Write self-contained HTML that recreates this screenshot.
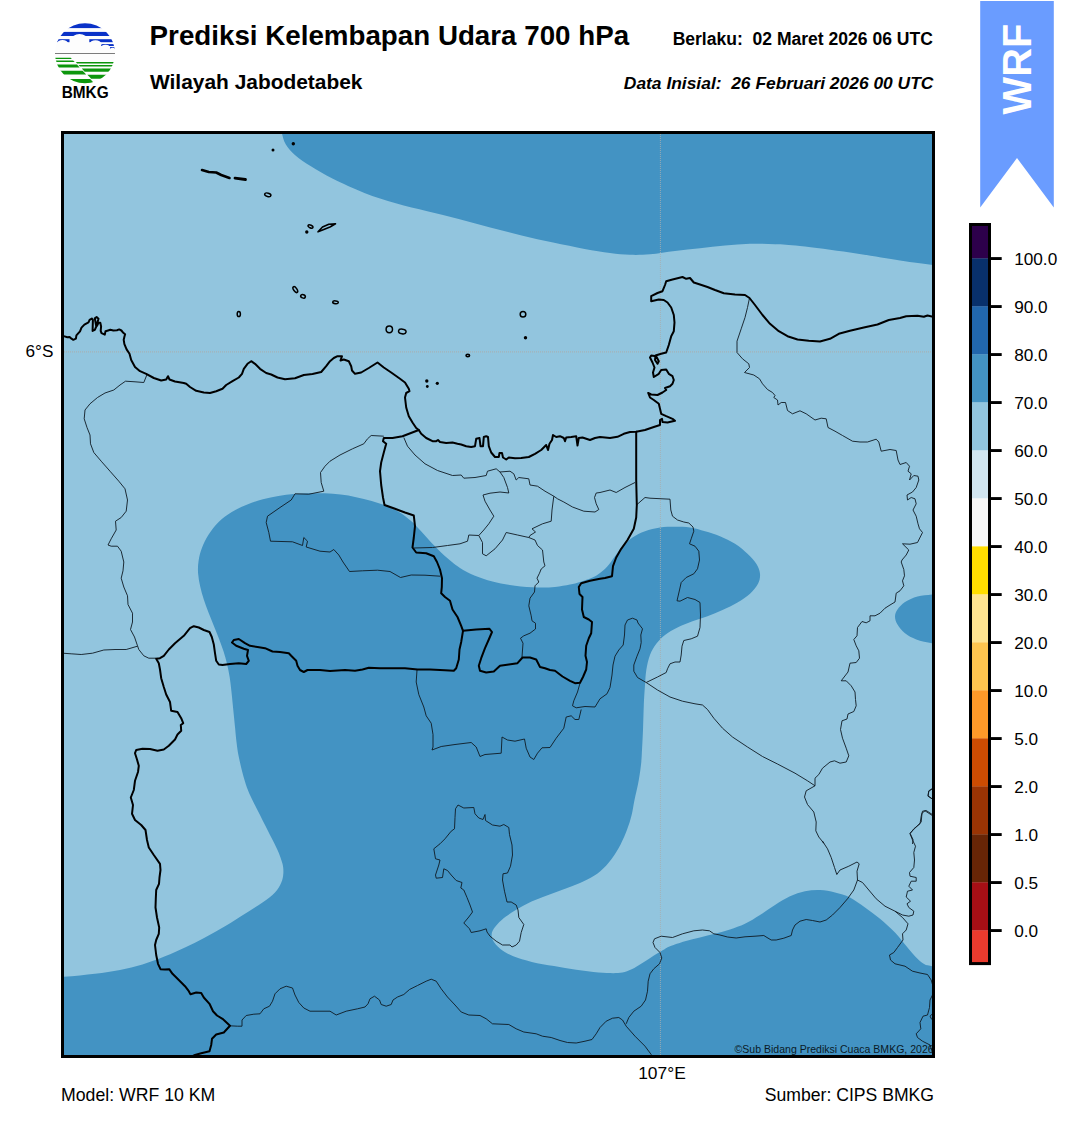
<!DOCTYPE html><html><head><meta charset="utf-8"><title>Prediksi Kelembapan Udara 700 hPa</title>
<style>html,body{margin:0;padding:0;background:#fff}body{width:1081px;height:1128px;overflow:hidden;font-family:"Liberation Sans",sans-serif}svg{display:block}text{font-family:"Liberation Sans",sans-serif;fill:#000}</style></head><body>
<svg width="1081" height="1128" viewBox="0 0 1081 1128">
<rect width="1081" height="1128" fill="#fff"/>
<defs><clipPath id="mc"><rect x="62.5" y="132.5" width="871" height="924"/></clipPath></defs>
<g clip-path="url(#mc)">
<rect x="62" y="132" width="872" height="925" fill="#92c5de"/>
<path d="M282.0,133.8 C282.8,136.7 283.5,140.6 285.7,144.2 C287.9,147.8 291.0,151.5 295.2,155.2 C299.4,158.9 304.6,162.3 310.9,166.2 C317.2,170.1 324.0,174.4 332.9,178.8 C341.8,183.2 353.9,188.8 364.4,192.9 C374.9,197.0 385.3,200.2 395.8,203.3 C406.3,206.4 416.8,208.6 427.3,211.2 C437.8,213.8 448.2,216.3 458.7,219.0 C469.2,221.7 479.7,224.8 490.2,227.5 C500.7,230.2 511.1,232.9 521.6,235.4 C532.1,237.9 542.6,240.3 553.1,242.6 C563.6,244.8 575.1,247.2 584.6,248.9 C594.1,250.6 602.4,252.0 610.0,253.0 C617.6,254.0 623.3,254.6 630.0,254.8 C636.7,255.0 642.5,254.9 650.0,254.3 C657.5,253.7 666.7,252.0 675.0,251.0 C683.3,250.0 691.7,249.2 700.0,248.3 C708.3,247.4 716.7,246.2 725.0,245.5 C733.3,244.8 741.7,244.0 750.0,243.8 C758.3,243.6 766.7,243.9 775.0,244.3 C783.3,244.7 787.5,244.6 800.0,246.0 C812.5,247.4 833.3,250.1 850.0,252.5 C866.7,254.9 886.2,258.4 900.0,260.5 C913.8,262.6 923.0,263.8 933.0,265.0 C943.0,266.2 955.5,295.5 960.0,268.0 C964.5,240.5 1073.2,128.0 960.0,100.0 C846.8,72.0 394.2,97.0 281.0,100.0 C167.8,103.0 280.5,113.5 280.5,118.0 C280.5,122.5 280.6,124.4 280.8,127.0 C281.1,129.6 281.2,130.9 282.0,133.8Z" fill="#4393c3"/>
<path d="M325.0,493.3 C319.8,493.1 314.7,493.2 309.5,493.3 C304.3,493.4 299.2,493.7 294.0,494.1 C288.8,494.5 283.6,495.0 278.4,495.9 C273.2,496.8 268.1,497.9 262.9,499.3 C257.7,500.7 252.5,502.3 247.3,504.4 C242.1,506.5 236.5,509.1 231.8,512.0 C227.1,514.9 222.8,518.0 218.9,521.8 C215.0,525.6 211.3,530.5 208.5,534.8 C205.7,539.1 203.7,543.4 202.0,547.7 C200.3,552.0 199.2,556.4 198.6,560.7 C197.9,565.0 197.8,569.3 198.1,573.6 C198.4,577.9 199.2,582.2 200.2,586.5 C201.1,590.8 202.4,595.2 203.8,599.5 C205.2,603.8 206.8,608.1 208.5,612.4 C210.2,616.7 212.0,621.1 213.7,625.4 C215.4,629.7 217.3,634.1 218.9,638.4 C220.5,642.7 222.1,647.0 223.5,651.3 C224.9,655.6 226.1,660.0 227.1,664.3 C228.1,668.6 229.0,672.9 229.7,677.2 C230.4,681.5 230.8,685.9 231.3,690.2 C231.8,694.5 232.2,698.8 232.6,703.1 C233.0,707.4 233.5,711.8 233.9,716.1 C234.3,720.4 234.8,724.7 235.2,729.0 C235.6,733.3 235.9,737.3 236.5,742.0 C237.1,746.7 237.5,750.7 238.8,757.0 C240.1,763.3 242.6,773.7 244.5,780.0 C246.4,786.3 247.4,789.2 250.0,795.0 C252.6,800.8 256.7,808.3 260.0,815.0 C263.3,821.7 267.1,829.2 270.0,835.0 C272.9,840.8 275.4,845.2 277.5,850.0 C279.6,854.8 281.5,859.8 282.5,863.8 C283.5,867.8 283.5,870.7 283.3,873.8 C283.1,876.9 282.7,879.4 281.3,882.5 C279.9,885.6 278.1,889.2 275.0,892.5 C271.9,895.8 267.5,899.0 262.5,902.5 C257.5,906.0 251.2,909.8 245.0,913.8 C238.8,917.8 231.7,922.3 225.0,926.3 C218.3,930.2 211.7,934.0 205.0,937.5 C198.3,941.0 191.7,944.4 185.0,947.5 C178.3,950.6 172.1,953.5 165.0,956.3 C157.9,959.1 150.0,962.2 142.5,964.5 C135.0,966.8 127.9,968.5 120.0,970.0 C112.1,971.5 104.4,972.7 95.0,973.8 C85.6,974.9 74.6,976.1 63.8,976.8 C53.0,977.5 35.6,959.1 30.0,978.0 C24.4,996.9 -125.0,1071.3 30.0,1090.0 C185.0,1108.7 805.0,1109.2 960.0,1090.0 C1115.0,1070.8 964.7,995.6 960.0,975.0 C955.3,954.4 937.8,968.0 932.0,966.3 C926.2,964.5 927.4,965.8 925.0,964.5 C922.6,963.2 920.4,961.6 917.5,958.8 C914.6,956.0 911.2,951.9 907.5,947.5 C903.8,943.1 899.6,937.3 895.0,932.5 C890.4,927.7 885.0,923.0 880.0,918.8 C875.0,914.6 870.0,911.0 865.0,907.5 C860.0,904.0 855.0,900.0 850.0,897.5 C845.0,895.0 840.0,893.8 835.0,892.5 C830.0,891.2 825.0,890.2 820.0,890.0 C815.0,889.8 810.0,890.2 805.0,891.3 C800.0,892.3 795.0,894.0 790.0,896.3 C785.0,898.6 780.0,901.9 775.0,905.0 C770.0,908.1 765.0,911.9 760.0,915.0 C755.0,918.1 750.0,921.4 745.0,923.8 C740.0,926.2 735.0,927.8 730.0,929.5 C725.0,931.2 720.0,932.5 715.0,933.8 C710.0,935.1 705.0,936.2 700.0,937.5 C695.0,938.8 690.0,939.8 685.0,941.3 C680.0,942.8 673.3,945.0 670.0,946.3 C666.7,947.6 667.7,947.4 665.0,948.9 C662.3,950.4 657.6,953.1 653.9,955.4 C650.2,957.7 646.5,960.5 642.8,962.8 C639.1,965.1 635.1,967.7 631.7,969.3 C628.3,970.9 625.6,972.0 622.5,972.6 C619.4,973.2 617.2,973.2 613.2,973.2 C609.2,973.2 604.6,973.2 598.4,972.6 C592.2,972.0 583.6,970.9 576.2,969.8 C568.8,968.7 561.4,967.4 554.0,966.1 C546.6,964.8 538.6,963.5 531.8,961.9 C525.0,960.3 518.5,958.5 513.3,956.3 C508.1,954.1 503.8,951.5 500.4,948.9 C497.0,946.3 494.4,943.4 493.0,940.6 C491.6,937.8 491.2,935.1 492.0,932.3 C492.8,929.5 495.3,926.6 497.6,924.0 C499.9,921.4 502.7,919.1 505.9,916.6 C509.1,914.1 513.3,911.4 517.0,909.2 C520.7,907.0 523.8,905.2 528.1,903.2 C532.4,901.2 538.0,899.0 542.9,897.1 C547.8,895.2 552.8,893.5 557.7,891.6 C562.6,889.8 567.6,888.0 572.5,886.0 C577.4,884.0 582.7,882.1 587.3,879.6 C591.9,877.1 596.3,874.6 600.3,871.2 C604.3,867.8 608.0,863.7 611.4,859.2 C614.8,854.7 618.0,849.3 620.6,844.4 C623.2,839.5 625.2,834.5 627.1,829.6 C629.0,824.7 630.5,819.7 631.7,814.8 C632.9,809.9 633.3,805.8 634.5,800.0 C635.7,794.2 637.7,786.3 638.8,780.0 C639.9,773.7 640.8,767.0 641.3,762.0 C641.8,757.0 641.7,755.3 642.0,750.0 C642.3,744.7 642.7,737.5 643.0,730.0 C643.3,722.5 643.5,712.5 643.8,705.0 C644.1,697.5 644.6,690.8 645.0,685.0 C645.4,679.2 645.5,675.0 646.3,670.0 C647.1,665.0 648.3,659.4 650.0,655.0 C651.7,650.6 653.8,647.1 656.3,643.8 C658.8,640.5 661.5,637.7 665.0,635.0 C668.5,632.3 672.9,629.8 677.5,627.5 C682.1,625.2 687.5,623.2 692.5,621.3 C697.5,619.4 702.5,618.2 707.5,616.3 C712.5,614.4 717.5,612.3 722.5,610.0 C727.5,607.7 732.9,605.2 737.5,602.5 C742.1,599.8 746.6,596.9 750.0,593.8 C753.4,590.7 756.3,587.1 758.0,583.8 C759.7,580.5 760.3,577.1 760.0,573.8 C759.7,570.5 758.4,567.1 756.3,563.8 C754.2,560.5 751.0,557.1 747.5,553.8 C744.0,550.5 739.6,546.7 735.0,543.8 C730.4,540.9 725.0,538.4 720.0,536.3 C715.0,534.2 710.0,532.8 705.0,531.3 C700.0,529.8 695.0,528.2 690.0,527.5 C685.0,526.8 680.0,526.8 675.0,526.8 C670.0,526.8 665.0,526.8 660.0,527.5 C655.0,528.2 649.6,529.6 645.0,531.3 C640.4,533.0 636.2,535.0 632.5,537.5 C628.8,540.0 625.4,543.2 622.5,546.3 C619.6,549.4 617.5,553.0 615.0,556.3 C612.5,559.6 610.0,563.5 607.5,566.3 C605.0,569.1 602.5,571.1 600.0,573.0 C597.5,574.9 595.8,576.0 592.5,577.5 C589.2,579.0 583.8,580.8 580.0,582.0 C576.2,583.2 574.2,583.7 570.0,584.5 C565.8,585.3 560.4,586.5 555.0,587.0 C549.6,587.5 544.2,587.7 537.5,587.5 C530.8,587.3 522.5,586.8 515.0,585.8 C507.5,584.8 499.2,583.2 492.5,581.5 C485.8,579.8 480.4,578.1 475.0,575.8 C469.6,573.5 463.8,570.2 460.0,567.9 C456.2,565.6 455.1,564.5 452.0,562.0 C448.9,559.5 445.1,556.1 441.6,552.9 C438.1,549.6 434.6,546.2 431.2,542.5 C427.8,538.8 424.3,534.6 420.9,530.9 C417.4,527.2 413.9,523.5 410.5,520.5 C407.1,517.5 404.1,515.1 400.2,512.7 C396.3,510.3 391.9,508.2 387.2,506.3 C382.4,504.4 376.9,502.6 371.7,501.1 C366.5,499.6 361.3,498.3 356.1,497.2 C350.9,496.1 345.8,495.2 340.6,494.6 C335.4,494.0 330.2,493.5 325.0,493.3Z" fill="#4393c3"/>
<path d="M945.0,593.0 C940.3,588.8 936.6,593.9 932.0,594.5 C927.4,595.1 922.0,595.2 917.5,596.5 C913.0,597.8 908.3,599.8 905.0,602.0 C901.7,604.2 899.2,607.1 897.5,609.5 C895.8,611.9 895.0,614.0 895.0,616.5 C895.0,619.0 895.8,621.7 897.5,624.5 C899.2,627.3 901.9,630.8 905.0,633.3 C908.1,635.8 911.8,637.8 916.3,639.5 C920.8,641.2 927.2,642.4 932.0,643.3 C936.8,644.2 940.3,648.9 945.0,645.0 C949.7,641.1 960.0,628.7 960.0,620.0 C960.0,611.3 949.7,597.2 945.0,593.0Z" fill="#4393c3"/>
<path d="M62,351.9H934" stroke="#a9aeae" stroke-width="1.1" stroke-dasharray="1,1" fill="none" opacity="0.85"/>
<path d="M660.4,132V1057" stroke="#a9aeae" stroke-width="1" stroke-dasharray="1,1" fill="none" opacity="0.85"/>
<path d="M147.0,374.5 L143.8,382.5 L135.0,381.8 L125.5,381.2 L120.0,385.0 L113.8,390.0 L105.0,393.0 L97.5,397.5 L90.0,403.8 L85.0,410.0 L84.2,418.8 L87.0,427.5 L90.0,435.0 L90.5,443.8 L93.8,452.5 L101.2,461.2 L110.0,471.2 L118.8,481.2 L125.0,488.8 L127.5,500.0 L126.2,511.2 L121.2,517.5 L115.5,521.2 L116.2,530.0 L111.2,538.8 L108.0,545.0 L111.2,546.2 L117.5,546.2 L121.2,551.2 L123.8,562.0 L123.0,570.8 L121.2,578.2 L123.8,587.0 L127.5,595.8 L128.0,604.5 L132.5,613.2 L132.5,622.0 L130.5,629.5 L134.5,637.0 L137.5,645.8 L138.8,649.5 L143.8,655.8 L148.8,658.2 L156.2,658.2" fill="none" stroke="#0e1a22" stroke-width="0.9" stroke-linejoin="round"/>
<path d="M137.5,646.2 L126.2,649.5 L115.0,649.5 L103.8,650.0 L92.5,653.2 L81.2,654.5 L71.2,653.8 L62.5,653.2" fill="none" stroke="#0e1a22" stroke-width="0.9" stroke-linejoin="round"/>
<path d="M383.8,436.2 L371.2,435.5 L367.5,438.8 L363.8,443.8 L352.5,448.8 L340.0,455.0 L330.0,461.2 L325.0,466.2 L320.5,472.5 L321.2,482.5 L323.8,491.2 L308.8,494.2 L295.0,493.8 L291.2,500.0 L280.0,507.5 L267.5,516.2 L266.2,522.5 L268.8,532.5 L270.5,541.2 L292.5,541.8 L302.5,545.5 L303.8,537.5 L307.5,541.2 L306.2,547.0 L320.0,551.2 L330.0,552.0 L333.8,549.5 L338.8,555.0 L343.0,562.0 L349.5,571.5 L362.5,570.8 L377.5,570.2 L390.0,571.5 L400.5,577.5 L411.2,575.0 L425.0,575.2 L440.0,576.2" fill="none" stroke="#0e1a22" stroke-width="0.9" stroke-linejoin="round"/>
<path d="M403.8,437.5 L407.5,446.2 L415.0,455.0 L425.0,463.8 L437.5,470.5 L452.5,475.5 L461.2,475.0 L463.8,478.2 L475.0,477.5 L486.2,475.5 L487.5,471.2 L496.2,468.8 L500.0,472.0 L510.0,471.2 L513.8,473.8 L516.2,480.0 L518.8,477.5 L528.8,478.8 L530.0,485.0 L537.5,486.2 L545.0,491.2 L553.8,496.2 L557.5,498.8 L563.8,502.0 L572.5,507.0 L583.8,511.2 L595.0,512.0 L598.8,509.5 L596.2,503.8 L594.5,497.5 L596.2,493.0 L600.0,492.5 L610.0,490.0 L616.2,492.5 L625.0,487.5 L635.0,482.5" fill="none" stroke="#0e1a22" stroke-width="0.9" stroke-linejoin="round"/>
<path d="M500.0,472.0 L503.8,477.5 L507.5,487.5 L508.8,493.0 L500.0,492.0 L490.0,493.2 L483.0,495.0 L485.0,501.2 L490.0,510.0 L493.8,516.2 L488.8,523.8 L483.8,530.0 L478.8,535.5 L468.8,535.0 L467.5,541.2 L460.0,543.8 L447.5,545.5 L432.5,547.5 L413.8,548.0" fill="none" stroke="#0e1a22" stroke-width="0.9" stroke-linejoin="round"/>
<path d="M478.8,535.5 L482.5,542.5 L482.5,553.8 L486.2,555.8 L495.0,548.8 L502.5,540.0 L506.2,532.5 L517.5,535.0 L528.8,537.5 L535.0,540.0 L537.5,545.5 L542.5,550.0 L543.8,562.0 L545.0,565.8 L541.2,569.0 L539.5,573.2 L537.0,578.2 L538.8,582.0 L535.0,585.8 L534.5,592.0 L530.0,598.2 L528.8,605.8 L531.2,615.8 L532.0,620.8 L535.5,623.2 L535.5,629.0 L530.0,633.2 L523.8,635.8 L520.5,638.2 L523.0,643.2 L522.0,657.0" fill="none" stroke="#0e1a22" stroke-width="0.9" stroke-linejoin="round"/>
<path d="M553.8,496.2 L552.0,510.0 L551.2,521.2 L542.5,523.8 L532.0,528.8 L535.5,532.0 L530.0,535.5 L528.8,537.5" fill="none" stroke="#0e1a22" stroke-width="0.9" stroke-linejoin="round"/>
<path d="M749.5,298.0 L747.5,307.5 L745.0,317.5 L741.2,328.8 L737.0,341.2 L737.0,352.5 L742.5,358.8 L748.8,363.8 L749.5,367.5 L744.5,372.5 L753.8,375.0 L759.5,378.8 L762.5,383.8 L767.5,389.5 L772.5,392.5 L775.0,395.5 L773.8,397.5 L777.5,400.0 L778.0,405.0 L781.2,402.5 L785.5,402.5 L787.5,410.5 L792.5,413.8 L800.0,410.8 L806.2,413.8 L815.0,420.0 L821.2,418.2 L826.2,418.8 L828.0,427.5 L835.0,431.2 L842.5,435.5 L852.5,441.2 L860.0,442.0 L867.5,442.0 L876.2,439.2 L878.8,442.0 L881.2,451.2 L890.0,449.5 L896.2,450.5 L898.0,460.0 L900.0,464.5 L906.2,462.5 L909.5,466.2 L908.0,471.2 L911.2,473.8 L909.5,480.0 L913.8,475.5 L918.0,476.2 L918.8,480.0 L916.2,487.5 L912.5,492.0 L907.0,495.0 L907.5,500.0 L911.2,497.5 L915.0,498.8 L916.2,503.8 L913.0,510.0 L916.2,516.2 L918.0,523.8 L919.5,528.8 L922.5,532.5 L917.5,542.5 L910.0,544.2 L902.5,543.8 L908.8,550.0 L906.2,555.0 L902.0,560.0 L901.2,562.0 L903.8,569.5 L904.5,575.8 L902.5,580.8 L903.8,585.8 L900.0,590.8 L896.2,593.2 L895.0,602.0 L890.0,605.0 L885.0,608.2 L880.0,613.2 L875.0,615.8 L870.0,615.8 L870.0,620.8 L866.2,622.8 L862.0,621.5 L857.5,627.5 L857.0,635.8 L853.8,639.5 L856.2,645.8 L858.8,650.8 L859.5,658.2 L856.2,662.5 L850.0,663.2 L848.0,672.0 L841.2,680.8 L846.2,680.8 L851.2,685.8 L855.0,692.0 L855.5,699.5 L856.2,705.8 L853.8,711.5 L848.0,714.0 L847.0,719.0 L842.0,720.8 L840.5,729.5 L842.5,738.2 L846.2,748.2 L848.8,755.8 L846.2,762.0 L840.0,763.2 L834.5,760.8 L830.0,762.0 L822.5,768.2 L818.8,774.5 L815.0,778.2 L815.0,785.8" fill="none" stroke="#0e1a22" stroke-width="0.9" stroke-linejoin="round"/>
<path d="M637.0,504.5 L645.0,497.5 L650.0,498.2 L670.0,499.2 L670.8,510.0 L672.5,516.2 L677.5,520.0 L683.8,522.0 L688.8,523.0 L693.0,527.0 L693.8,531.2 L691.2,538.8 L689.5,543.8 L695.0,546.2 L698.8,551.2 L699.5,560.0 L697.5,568.8 L693.8,573.8 L686.2,577.5 L681.2,582.5 L679.5,590.0 L677.0,600.8 L680.0,601.2 L687.5,597.5 L695.0,599.5 L700.0,602.5 L700.5,615.0 L700.0,627.5 L697.5,636.2 L691.2,638.8 L683.8,640.5 L682.0,646.2 L681.2,655.0 L680.0,662.0 L675.0,662.0 L670.0,663.8 L667.5,668.8 L666.2,672.5 L657.5,677.0 L646.2,682.5" fill="none" stroke="#0e1a22" stroke-width="0.9" stroke-linejoin="round"/>
<path d="M646.2,682.5 L637.5,677.5 L633.8,671.2 L633.8,665.0 L637.0,656.2 L640.0,648.8 L641.2,642.5 L640.8,635.0 L642.5,628.8 L638.0,623.0 L637.0,620.0 L632.5,618.2 L627.5,620.0 L625.0,625.0 L624.5,635.0 L623.2,645.0 L618.8,650.0 L615.0,656.2 L613.0,665.0 L612.0,675.0 L610.0,687.5 L607.0,693.8 L600.0,698.8 L595.0,707.0 L585.0,706.5 L576.2,707.8 L572.5,705.8 L573.8,700.8 L577.5,692.0 L580.0,683.2" fill="none" stroke="#0e1a22" stroke-width="0.9" stroke-linejoin="round"/>
<path d="M646.2,682.5 L657.5,690.0 L670.0,697.0 L682.5,701.2 L695.0,703.8 L695.0,703.8 L702.5,705.0 L707.5,709.5 L713.8,718.2 L722.5,728.2 L732.5,737.0 L747.5,747.0 L762.5,756.5 L777.5,764.0 L795.0,773.2 L807.5,780.8 L815.0,785.8 L806.2,790.8 L804.5,797.0 L807.5,804.5 L813.8,812.0 L816.2,822.0 L815.8,830.8 L818.8,837.0 L823.8,843.2 L822.5,841.2 L827.5,848.8 L831.2,857.5 L834.5,867.5 L836.8,874.5 L840.0,870.0 L848.8,866.2 L857.0,862.0 L859.2,863.8 L857.0,871.2 L857.5,880.0" fill="none" stroke="#0e1a22" stroke-width="0.9" stroke-linejoin="round"/>
<path d="M417.0,670.0 L416.2,682.0 L418.8,694.5 L423.8,707.0 L426.2,715.8 L431.2,723.2 L433.0,734.5 L433.0,747.0 L432.0,750.0 L441.2,746.5 L455.0,744.5 L471.2,742.5 L476.2,747.0 L480.0,756.5 L485.0,754.5 L501.2,753.2 L502.0,737.0 L507.5,740.0 L515.0,741.2 L524.5,739.0 L526.2,748.2 L530.0,757.0 L533.8,759.5 L537.5,753.2 L542.0,747.8 L550.0,747.5 L556.2,738.2 L563.8,728.2 L566.2,717.0 L571.2,715.8 L575.0,719.5 L578.8,719.5 L581.2,709.5" fill="none" stroke="#0e1a22" stroke-width="0.9" stroke-linejoin="round"/>
<path d="M458.0,805.0 L463.8,808.0 L473.8,807.5 L475.0,813.8 L478.8,818.0 L483.0,819.5 L485.0,814.5 L485.5,820.5 L492.5,825.0 L500.0,826.2 L503.8,824.5 L508.8,827.5 L509.5,834.5 L512.0,845.0 L512.5,855.0 L510.5,866.2 L507.5,873.0 L503.0,873.8 L502.5,880.0 L504.5,891.2 L507.0,902.0 L511.2,902.0 L516.2,905.0 L518.0,910.0 L518.8,917.5 L523.8,924.5 L521.2,932.5 L519.5,941.2 L516.2,945.0 L512.0,947.0 L510.0,945.0 L502.5,945.0 L496.2,941.2 L490.0,936.2 L487.0,932.0 L486.2,928.8 L480.0,930.8 L471.2,932.5 L469.5,928.8 L463.8,923.0 L468.8,917.0 L472.5,912.0 L470.0,905.0 L467.0,897.5 L463.8,890.0 L460.8,888.0 L462.0,882.5 L456.2,880.5 L451.2,875.0 L447.5,870.5 L443.8,868.8 L442.5,877.5 L436.2,878.2 L435.5,875.0 L438.8,865.0 L440.0,860.0 L435.5,858.8 L433.8,848.8 L440.0,843.8 L445.0,838.8 L451.2,831.2 L454.5,828.8 L455.0,817.5 L455.5,808.8 L458.0,805.0" fill="none" stroke="#0e1a22" stroke-width="0.9" stroke-linejoin="round"/>
<path d="M230.0,1025.8 L237.5,1026.2 L242.0,1026.2 L242.0,1020.0 L246.2,1015.5 L253.8,1014.2 L260.0,1013.8 L263.8,1008.8 L269.5,1006.2 L272.5,1001.2 L275.0,993.8 L280.0,988.8 L286.2,986.2 L292.5,988.0 L295.0,995.0 L298.8,1002.5 L303.8,1008.0 L310.0,1011.2 L320.0,1011.2 L330.0,1011.2 L336.2,1015.0 L346.2,1011.2 L357.5,1008.8 L365.0,1007.0 L368.0,1003.8 L370.0,998.8 L374.5,996.2 L379.5,1000.0 L381.2,1004.5 L386.2,1006.2 L391.2,1004.5 L393.0,1000.0 L397.5,997.0 L403.8,994.5 L409.5,989.5 L417.5,985.5 L426.2,981.2 L431.2,979.2 L436.2,981.2 L441.2,988.8 L447.5,997.0 L455.0,1005.0 L461.2,1012.0 L468.8,1015.0 L480.0,1015.5 L486.2,1018.8 L492.5,1023.8 L508.8,1024.5 L516.2,1028.8 L523.8,1032.0 L536.2,1033.8 L542.5,1036.2 L551.2,1037.5 L560.0,1040.5 L567.5,1042.5 L576.2,1043.0 L585.0,1041.2 L592.0,1039.5 L596.2,1033.8 L600.0,1027.5 L606.2,1021.2 L612.5,1018.2 L618.8,1017.5 L622.5,1020.0 L626.2,1026.2 L635.0,1036.2 L645.0,1046.2 L651.2,1054.5 L653.8,1058.8" fill="none" stroke="#0e1a22" stroke-width="0.9" stroke-linejoin="round"/>
<path d="M626.2,1023.8 L628.8,1017.5 L633.8,1011.2 L641.2,1006.2 L645.5,1000.0 L647.5,991.2 L648.2,981.2 L650.0,973.8 L653.8,968.8 L659.5,963.8 L661.8,958.0 L660.0,952.5 L655.0,947.5 L653.0,942.5 L654.5,938.8 L661.2,936.2 L672.5,937.5 L682.5,933.8 L693.8,930.8 L702.5,930.0 L709.5,930.8 L713.8,933.8 L720.0,935.0 L727.5,937.0 L736.2,938.0 L745.0,936.8 L755.0,936.2 L763.8,935.5 L767.0,937.5 L771.2,940.0 L776.2,940.0 L783.8,938.2 L791.2,935.5 L792.5,930.0 L795.0,925.0 L800.0,921.2 L806.2,919.5 L812.5,920.5 L820.0,922.0 L826.2,920.0 L832.5,915.0 L840.0,907.5 L847.5,898.8 L853.8,890.0 L857.5,880.0" fill="none" stroke="#0e1a22" stroke-width="0.9" stroke-linejoin="round"/>
<path d="M857.5,880.0 L862.5,882.5 L868.8,890.0 L876.2,898.8 L885.0,906.2 L895.0,911.2 L902.5,915.0 L908.8,916.2 L913.0,915.0 L913.8,911.2 L908.8,907.5 L907.0,903.8 L910.5,901.2 L906.2,897.0 L907.5,891.2 L912.5,890.0 L908.8,886.2 L911.2,881.2 L916.2,881.2 L916.2,877.5 L910.0,876.2 L909.5,872.5 L913.8,867.5 L914.5,860.0 L913.8,852.5 L915.5,846.2 L912.5,840.0 L910.0,833.8 L913.8,828.8 L920.0,823.8 L921.2,816.2 L922.5,811.2 L926.2,810.5 L933.8,815.5" fill="none" stroke="#0e1a22" stroke-width="0.9" stroke-linejoin="round"/>
<path d="M933.8,788.0 L928.8,791.2 L928.0,796.2 L933.8,800.0" fill="none" stroke="#0e1a22" stroke-width="0.9" stroke-linejoin="round"/>
<path d="M895.0,911.2 L902.5,917.5 L908.0,923.8 L906.2,930.0 L902.5,933.8 L903.0,940.0 L897.5,947.5 L893.8,952.5 L889.5,955.0 L890.5,960.0 L895.0,963.8 L905.0,966.2 L912.5,971.2 L920.0,973.0 L927.5,974.5 L931.2,980.0 L932.5,984.5" fill="none" stroke="#0e1a22" stroke-width="0.9" stroke-linejoin="round"/>
<path d="M932.5,995.0 L930.0,1000.0 L929.5,1007.5 L927.5,1015.0 L923.0,1016.2 L920.0,1022.5 L920.8,1028.8 L916.2,1033.8 L917.5,1037.5 L922.5,1041.2 L930.0,1045.0 L932.5,1052.5" fill="none" stroke="#0e1a22" stroke-width="0.9" stroke-linejoin="round"/>
<path d="M932.5,1013.8 L930.0,1016.2 L931.8,1019.5" fill="none" stroke="#0e1a22" stroke-width="0.9" stroke-linejoin="round"/>
<path d="M933.8,787.5 L928.8,790.8 L928.0,795.8 L933.8,800.0" fill="none" stroke="#0e1a22" stroke-width="0.9" stroke-linejoin="round"/>
<path d="M933.8,816.5 L925.0,810.8 L922.0,813.2 L921.2,822.0 L916.2,827.0 L910.0,833.2 L913.0,839.5 L912.5,844.0" fill="none" stroke="#0e1a22" stroke-width="0.9" stroke-linejoin="round"/>
<path d="M62.0,335.8 L63.7,336.1 L67.4,337.2 L69.6,337.0 L71.5,338.7 L73.3,339.8 L75.9,338.7 L76.4,335.3 L80.0,331.3 L81.5,327.6 L84.4,324.6 L88.5,322.4 L89.6,319.8 L91.8,318.5 L92.9,319.8 L92.6,330.9 L94.8,329.8 L96.3,326.5 L94.8,318.3 L96.6,317.1 L98.5,318.7 L97.4,322.8 L97.0,325.7 L98.5,322.8 L100.3,322.8 L101.1,326.5 L100.7,330.9 L101.5,333.1 L104.8,334.6 L105.5,331.3 L108.1,330.5 L110.3,329.8 L113.3,330.5 L117.0,330.2 L119.2,329.4 L121.4,330.5 L123.3,332.8 L125.1,334.2 L124.4,336.8 L123.7,339.8 L124.4,344.2 L126.6,349.4 L129.5,353.8 L131.2,360.0 L135.0,367.0 L140.0,371.2 L146.2,373.8 L153.8,378.0 L161.2,380.5 L166.2,379.5 L168.0,376.2 L169.5,379.5 L175.0,381.5 L183.8,383.0 L186.2,383.8 L190.0,387.0 L196.2,390.8 L203.8,392.5 L210.0,393.0 L216.2,391.2 L222.5,388.8 L226.2,385.0 L232.5,381.2 L238.8,377.5 L242.0,373.8 L243.8,368.8 L247.5,363.8 L251.2,361.2 L255.0,363.8 L260.0,368.8 L266.2,373.0 L271.2,374.5 L277.5,377.5 L285.0,379.2 L295.0,378.2 L303.8,375.0 L312.5,374.0 L321.2,372.0 L326.2,366.2 L330.0,361.2 L333.8,358.0 L337.5,356.2 L342.0,356.2 L340.5,360.5 L343.8,359.5 L348.8,361.2 L351.2,366.2 L352.0,370.5 L355.0,373.8 L361.2,372.5 L368.8,368.0 L377.5,362.5 L383.8,367.5 L391.2,372.5 L400.0,378.8 L405.0,382.5 L408.8,388.8 L409.5,391.2 L406.2,393.0 L405.0,397.5 L406.2,407.5 L408.8,416.2 L412.5,422.5 L416.2,428.0 L418.8,430.0 L421.2,433.8 L426.2,438.0 L432.5,441.2 L436.2,441.2 L438.0,440.0 L440.0,442.0 L446.2,443.0 L452.5,442.5 L457.5,443.8 L461.2,444.5 L466.2,446.2 L471.2,447.0 L475.0,446.2 L476.2,438.8 L479.5,438.0 L480.5,446.2 L483.0,446.2 L483.8,437.0 L486.2,436.2 L488.0,437.0 L488.8,446.2 L491.2,452.5 L495.0,457.0 L498.8,457.0 L499.5,453.0 L502.0,453.0 L503.0,457.5 L506.2,459.5 L508.8,457.5 L515.0,458.2 L521.2,458.0 L528.8,457.0 L535.0,453.8 L541.2,450.0 L546.2,445.0 L548.0,450.0 L549.5,443.8 L552.0,440.0 L553.0,435.0 L556.2,437.0 L560.0,436.2 L563.8,438.0 L565.0,441.2 L566.2,437.5 L571.2,437.0 L576.2,436.2 L577.5,445.5 L578.8,438.0 L582.5,437.5 L590.0,440.0 L595.0,438.0 L600.0,437.0 L605.0,437.5 L610.0,438.0 L617.5,436.8 L623.8,433.8 L630.0,432.0 L636.2,431.8 L645.0,430.0 L653.8,427.0 L660.0,425.0 L660.0,420.0 L662.0,418.8 L662.5,422.0 L667.5,422.5 L675.0,420.8 L672.5,418.8 L666.2,416.2 L661.2,413.8 L660.0,408.8 L658.8,403.8 L653.8,400.0 L650.0,397.5 L648.2,393.0 L651.2,394.5 L657.5,395.0 L662.5,392.5 L666.2,390.0 L665.0,388.0 L670.0,386.2 L672.5,383.8 L673.8,380.0 L672.5,376.2 L668.8,373.8 L666.2,369.5 L661.2,370.0 L658.8,373.8 L653.8,377.0 L653.0,372.5 L654.5,367.5 L652.5,362.5 L650.0,357.5 L651.2,355.5 L656.2,356.2 L658.8,361.2 L657.5,363.8 L655.0,360.0 L655.5,355.5 L661.2,353.8 L666.2,352.5 L668.8,345.0 L671.2,336.2 L673.8,331.2 L674.5,322.5 L673.8,315.0 L671.2,307.5 L667.5,302.5 L663.8,300.0 L658.8,299.5 L651.2,301.2 L651.2,296.2 L657.5,293.0 L662.5,291.2 L665.0,285.0 L666.2,281.2 L672.5,279.5 L682.5,277.0 L686.2,278.8 L690.0,278.0 L693.8,282.5 L700.0,284.5 L707.5,287.0 L715.0,290.0 L723.8,293.2 L735.0,294.5 L745.0,295.0 L749.5,298.0 L749.5,298.0 L755.0,305.0 L762.5,315.0 L770.0,323.8 L778.8,331.2 L787.5,336.2 L797.5,339.5 L808.8,340.8 L820.0,341.5 L830.0,338.8 L838.8,333.8 L850.0,330.8 L863.8,327.5 L877.5,324.5 L888.8,320.0 L900.0,318.0 L906.2,316.2 L917.5,315.8 L923.8,316.8 L927.5,315.5 L935.0,317.2" fill="none" stroke="#000" stroke-width="2.0" stroke-linejoin="round" stroke-linecap="round"/>
<path d="M418.8,430.0 L402.5,436.2 L392.5,438.0 L383.8,438.0 L383.0,441.2 L386.2,443.8 L383.8,452.5 L381.2,462.5 L380.0,471.2 L381.2,485.0 L383.0,497.5 L384.5,505.0 L395.0,508.8 L405.0,512.5 L413.8,515.5 L415.0,526.2 L413.8,537.5 L412.5,547.5 L416.2,552.5 L426.2,553.2 L433.8,556.2 L437.0,562.0 L440.0,569.5 L442.0,578.2 L441.8,587.0 L441.2,593.2 L445.0,597.0 L450.0,600.8 L452.5,609.5 L457.5,617.0 L461.2,625.8 L463.0,630.8" fill="none" stroke="#000" stroke-width="2.0" stroke-linejoin="round" stroke-linecap="round"/>
<path d="M463.0,630.8 L461.2,642.0 L459.5,649.5 L458.8,659.5 L456.2,668.2 L453.8,670.8 L445.0,670.2 L430.0,669.5 L417.5,669.5 L405.0,668.2 L392.5,668.2 L380.0,668.2 L368.8,667.8 L362.5,669.5 L355.0,670.8 L345.0,670.0 L330.0,671.0 L320.0,670.0 L307.5,670.0 L303.8,672.0 L300.0,670.0 L297.5,665.8 L296.2,660.8 L291.2,655.8 L288.8,653.2 L280.0,652.0 L272.5,651.5 L265.0,648.2 L257.5,647.0 L250.0,645.8 L245.0,643.2 L238.8,639.0 L233.8,640.0 L232.0,642.5 L236.2,645.8 L243.8,648.8 L248.0,650.0 L247.0,655.8 L248.8,660.8 L246.2,664.0 L238.8,663.2 L230.0,664.0 L222.5,665.0 L218.8,664.5 L216.2,660.8 L215.0,653.2 L213.8,644.5 L211.8,637.0 L209.5,632.0 L203.8,630.0 L198.8,627.5 L193.8,626.2 L190.0,628.2 L183.8,635.8 L175.0,643.2 L168.8,649.5 L163.8,655.8 L160.0,658.2 L156.2,658.8 L158.8,663.2 L160.0,669.5 L161.2,678.2 L163.8,687.0 L166.2,694.5 L170.0,702.0 L171.2,710.8 L177.5,712.0 L181.2,718.2 L183.2,723.2 L180.8,725.0 L181.2,730.8 L177.5,734.5 L175.0,739.5 L168.8,745.8 L163.8,749.5 L157.5,750.8 L150.0,749.0 L142.5,748.8 L136.2,750.0 L135.0,753.2 L137.0,759.5 L138.8,765.8 L138.0,772.0 L135.0,780.8 L133.8,790.0 L130.8,797.5 L133.0,805.0 L132.0,813.8 L135.0,820.0 L141.2,825.0 L145.5,830.0 L147.0,840.0 L148.8,847.5 L153.8,855.0 L160.0,863.8 L160.5,870.0 L159.5,877.5 L159.0,883.8 L156.2,890.0 L155.8,898.8 L155.5,907.5 L157.0,917.5 L159.2,927.5 L158.8,933.8 L156.2,940.0 L155.0,945.0 L156.2,955.0 L158.0,963.8 L160.5,969.2 L165.0,969.5 L169.2,969.2 L172.5,973.8 L178.8,980.0 L185.0,986.2 L188.8,991.2 L190.5,994.2 L196.2,992.5 L201.2,993.0 L203.8,997.5 L209.5,1003.8 L213.0,1011.2 L217.0,1015.5 L222.5,1018.8 L230.0,1025.8 L223.8,1032.5 L216.2,1034.5 L212.0,1038.8 L211.2,1045.0 L209.5,1051.2 L201.2,1053.2 L195.0,1055.0 L190.0,1057.5" fill="none" stroke="#000" stroke-width="2.0" stroke-linejoin="round" stroke-linecap="round"/>
<path d="M463.0,630.8 L476.2,629.5 L489.5,628.8 L492.0,632.0 L488.8,639.5 L485.0,648.2 L481.2,658.2 L478.8,665.8 L480.0,670.8 L486.2,672.5 L493.8,671.5 L500.0,665.8 L508.8,664.5 L517.5,663.2 L522.5,657.5 L530.0,657.5 L536.2,659.5 L540.0,667.0 L545.0,668.2 L550.0,670.0 L555.0,670.8 L562.5,676.5 L570.0,680.8 L575.0,683.2 L580.0,682.8 L583.0,677.0 L586.2,669.5 L587.0,662.0 L585.5,655.8 L586.2,645.8 L588.8,638.2 L591.2,633.2 L592.0,622.0 L588.8,619.5 L583.8,617.0 L582.0,609.5 L582.5,597.0 L579.5,594.0 L578.8,587.0 L581.2,583.2 L590.0,580.8 L600.0,578.8 L605.0,578.0 L612.0,576.2 L613.0,566.2 L616.2,557.5 L621.2,548.8 L627.5,540.0 L633.8,528.8 L636.2,517.5 L636.8,505.0 L636.2,480.0 L636.2,465.0 L636.2,431.8" fill="none" stroke="#000" stroke-width="2.0" stroke-linejoin="round" stroke-linecap="round"/>
<path d="M202.0,170.0 L208.8,172.0 L216.2,172.5 L221.2,175.0 L229.5,178.0" fill="none" stroke="#000" stroke-width="2.6" stroke-linejoin="round" stroke-linecap="round"/>
<path d="M235.0,178.2 L245.5,179.5" fill="none" stroke="#000" stroke-width="2.8" stroke-linejoin="round" stroke-linecap="round"/>
<path d="M318.0,231.8 L322.5,227.0 L328.8,224.2 L335.5,223.8 L330.0,227.0 L323.8,229.5 L318.0,231.8Z" fill="none" stroke="#000" stroke-width="1.6" stroke-linejoin="round" stroke-linecap="round"/>
<circle cx="293.3" cy="143.8" r="1.7" fill="#000"/>
<circle cx="273.0" cy="150.0" r="1.5" fill="#000"/>
<circle cx="426.8" cy="381.0" r="1.7" fill="#000"/>
<circle cx="427.3" cy="386.5" r="1.4" fill="#000"/>
<circle cx="437.3" cy="383.3" r="1.6" fill="#000"/>
<circle cx="525.5" cy="337.8" r="1.7" fill="#000"/>
<circle cx="306.8" cy="232.0" r="1.7" fill="#000"/>
<ellipse cx="267.8" cy="194.8" rx="3.2" ry="1.7" transform="rotate(15 267.8 194.8)" fill="none" stroke="#000" stroke-width="1.5"/>
<ellipse cx="303.0" cy="296.3" rx="2.4" ry="1.7" transform="rotate(20 303.0 296.3)" fill="none" stroke="#000" stroke-width="1.5"/>
<ellipse cx="335.5" cy="302.3" rx="2.8" ry="1.4" transform="rotate(5 335.5 302.3)" fill="none" stroke="#000" stroke-width="1.5"/>
<ellipse cx="238.8" cy="314.0" rx="1.6" ry="2.6" transform="rotate(0 238.8 314.0)" fill="none" stroke="#000" stroke-width="1.5"/>
<ellipse cx="389.3" cy="329.3" rx="3.2" ry="3.4" transform="rotate(0 389.3 329.3)" fill="none" stroke="#000" stroke-width="1.5"/>
<ellipse cx="402.3" cy="331.5" rx="3.8" ry="2.3" transform="rotate(10 402.3 331.5)" fill="none" stroke="#000" stroke-width="1.5"/>
<ellipse cx="523.0" cy="314.3" rx="2.8" ry="2.8" transform="rotate(0 523.0 314.3)" fill="none" stroke="#000" stroke-width="1.5"/>
<ellipse cx="467.8" cy="355.5" rx="1.8" ry="1.2" transform="rotate(0 467.8 355.5)" fill="none" stroke="#000" stroke-width="1.5"/>
<ellipse cx="295.3" cy="289.6" rx="1.6" ry="3.4" transform="rotate(-35 295.3 289.6)" fill="none" stroke="#000" stroke-width="1.5"/>
<ellipse cx="310.5" cy="226.5" rx="2.6" ry="1.4" transform="rotate(25 310.5 226.5)" fill="none" stroke="#000" stroke-width="1.5"/>
<text x="734.6" y="1052.8" font-size="10.2" textLength="199" lengthAdjust="spacingAndGlyphs" style="fill:#0a1a26">©Sub Bidang Prediksi Cuaca BMKG, 2026</text>
</g>
<rect x="62.5" y="132.5" width="871" height="924" fill="none" stroke="#000" stroke-width="3"/>
<defs><clipPath id="lg"><circle cx="85.0" cy="53.2" r="30.0"/></clipPath></defs>
<g clip-path="url(#lg)">
<rect x="50" y="20" width="70" height="70" fill="#fdfdfd"/>
<rect x="50" y="22" width="70" height="6.1" fill="#0a32c8"/>
<rect x="50" y="31.9" width="70" height="4.1" fill="#0a32c8"/>
<rect x="50" y="39.2" width="19.5" height="3.0" fill="#0a32c8"/>
<rect x="89.3" y="39.2" width="30" height="3.0" fill="#0a32c8"/>
<rect x="101.2" y="44.1" width="20" height="1.9" fill="#0a32c8"/>
<rect x="109.9" y="47.1" width="10" height="1.7" fill="#0a32c8"/>
<ellipse cx="79.5" cy="40.5" rx="8.2" ry="6.6" fill="#fdfdfd"/>
<ellipse cx="62.5" cy="43.6" rx="5.6" ry="3.6" fill="#fdfdfd"/>
<ellipse cx="95.5" cy="44.2" rx="5.8" ry="4.0" fill="#fdfdfd"/>
<ellipse cx="105.5" cy="47.6" rx="4.4" ry="2.9" fill="#fdfdfd"/>
<ellipse cx="112.5" cy="49.6" rx="2.6" ry="1.8" fill="#fdfdfd"/>
<rect x="50" y="53.0" width="70" height="0.9" fill="#6e6e6e"/>
<path d="M50,57.8H70.7L71.8,59.0H50Z" fill="#0c960c"/>
<path d="M50,60.4H73.1L74.7,62.1H50Z" fill="#0c960c"/>
<path d="M50,64.6H77.0L79.6,67.5H50Z" fill="#0c960c"/>
<path d="M50,70.7H82.6L86.2,74.6H50Z" fill="#0c960c"/>
<path d="M50,79.0H90.2L94.8,84.0H50Z" fill="#0c960c"/>
<path d="M120,62.1H75.9L77.1,63.5H120Z" fill="#0c960c"/>
<path d="M120,65.0H78.5L80.0,66.6H120Z" fill="#0c960c"/>
<path d="M120,68.6H81.8L84.7,71.7H120Z" fill="#0c960c"/>
<path d="M120,74.7H87.4L91.2,78.8H120Z" fill="#0c960c"/>
</g>
<text x="61.7" y="97.8" font-size="16.2" font-weight="bold" textLength="47.0" lengthAdjust="spacingAndGlyphs">BMKG</text>
<text x="149.6" y="45.1" font-size="27.6" font-weight="bold" textLength="479.5" lengthAdjust="spacingAndGlyphs">Prediksi Kelembapan Udara 700 hPa</text>
<text x="150.0" y="88.9" font-size="20.8" font-weight="bold" textLength="212.5" lengthAdjust="spacingAndGlyphs">Wilayah Jabodetabek</text>
<text x="932.8" y="45.2" font-size="17.55" font-weight="bold" text-anchor="end" xml:space="preserve">Berlaku:  02 Maret 2026 06 UTC</text>
<text x="933.4" y="89.0" font-size="17.42" font-weight="bold" font-style="italic" text-anchor="end" xml:space="preserve">Data Inisial:  26 Februari 2026 00 UTC</text>
<text x="61.0" y="1101.0" font-size="17.7">Model: WRF 10 KM</text>
<text x="934.0" y="1101.0" font-size="17.6" text-anchor="end">Sumber: CIPS BMKG</text>
<text x="25.5" y="357.2" font-size="17.2">6°S</text>
<text x="662.0" y="1079.2" font-size="17.4" text-anchor="middle">107°E</text>
<path d="M980.2,1H1053.8V207.5L1017,158L980.2,207.5Z" fill="#6a9cff"/>
<text transform="translate(1031.3,114.4) rotate(-90)" font-size="40.2" font-weight="bold" style="fill:#fff" textLength="90.6" lengthAdjust="spacingAndGlyphs">WRF</text>
<rect x="970.5" y="224.50" width="19.0" height="34.20" fill="#2d004b"/>
<rect x="970.5" y="258.40" width="19.0" height="48.30" fill="#08306b"/>
<rect x="970.5" y="306.40" width="19.0" height="48.30" fill="#2166ac"/>
<rect x="970.5" y="354.40" width="19.0" height="48.30" fill="#4393c3"/>
<rect x="970.5" y="402.40" width="19.0" height="48.30" fill="#92c5de"/>
<rect x="970.5" y="450.40" width="19.0" height="48.30" fill="#d1e5f0"/>
<rect x="970.5" y="498.40" width="19.0" height="48.30" fill="#f7f7f7"/>
<rect x="970.5" y="546.40" width="19.0" height="48.30" fill="#ffdc00"/>
<rect x="970.5" y="594.40" width="19.0" height="48.30" fill="#fee391"/>
<rect x="970.5" y="642.40" width="19.0" height="48.30" fill="#fec44f"/>
<rect x="970.5" y="690.40" width="19.0" height="48.30" fill="#fe9929"/>
<rect x="970.5" y="738.40" width="19.0" height="48.30" fill="#cc4c02"/>
<rect x="970.5" y="786.40" width="19.0" height="48.30" fill="#993404"/>
<rect x="970.5" y="834.40" width="19.0" height="48.30" fill="#662506"/>
<rect x="970.5" y="882.40" width="19.0" height="48.30" fill="#a50f15"/>
<rect x="970.5" y="930.40" width="19.0" height="33.50" fill="#ea3b2e"/>
<rect x="970.5" y="224.5" width="19.0" height="739.1" fill="none" stroke="#000" stroke-width="3"/>
<rect x="990.5" y="257.1" width="11.2" height="2.9" fill="#000"/>
<text x="1014.2" y="264.9" font-size="17.2">100.0</text>
<rect x="990.5" y="305.1" width="11.2" height="2.9" fill="#000"/>
<text x="1014.2" y="312.9" font-size="17.2">90.0</text>
<rect x="990.5" y="353.1" width="11.2" height="2.9" fill="#000"/>
<text x="1014.2" y="360.9" font-size="17.2">80.0</text>
<rect x="990.5" y="401.1" width="11.2" height="2.9" fill="#000"/>
<text x="1014.2" y="408.9" font-size="17.2">70.0</text>
<rect x="990.5" y="449.1" width="11.2" height="2.9" fill="#000"/>
<text x="1014.2" y="456.9" font-size="17.2">60.0</text>
<rect x="990.5" y="497.1" width="11.2" height="2.9" fill="#000"/>
<text x="1014.2" y="504.9" font-size="17.2">50.0</text>
<rect x="990.5" y="545.1" width="11.2" height="2.9" fill="#000"/>
<text x="1014.2" y="552.9" font-size="17.2">40.0</text>
<rect x="990.5" y="593.1" width="11.2" height="2.9" fill="#000"/>
<text x="1014.2" y="600.9" font-size="17.2">30.0</text>
<rect x="990.5" y="641.1" width="11.2" height="2.9" fill="#000"/>
<text x="1014.2" y="648.9" font-size="17.2">20.0</text>
<rect x="990.5" y="689.1" width="11.2" height="2.9" fill="#000"/>
<text x="1014.2" y="696.9" font-size="17.2">10.0</text>
<rect x="990.5" y="737.1" width="11.2" height="2.9" fill="#000"/>
<text x="1014.2" y="744.9" font-size="17.2">5.0</text>
<rect x="990.5" y="785.1" width="11.2" height="2.9" fill="#000"/>
<text x="1014.2" y="792.9" font-size="17.2">2.0</text>
<rect x="990.5" y="833.1" width="11.2" height="2.9" fill="#000"/>
<text x="1014.2" y="840.9" font-size="17.2">1.0</text>
<rect x="990.5" y="881.1" width="11.2" height="2.9" fill="#000"/>
<text x="1014.2" y="888.9" font-size="17.2">0.5</text>
<rect x="990.5" y="929.1" width="11.2" height="2.9" fill="#000"/>
<text x="1014.2" y="936.9" font-size="17.2">0.0</text>
</svg></body></html>
